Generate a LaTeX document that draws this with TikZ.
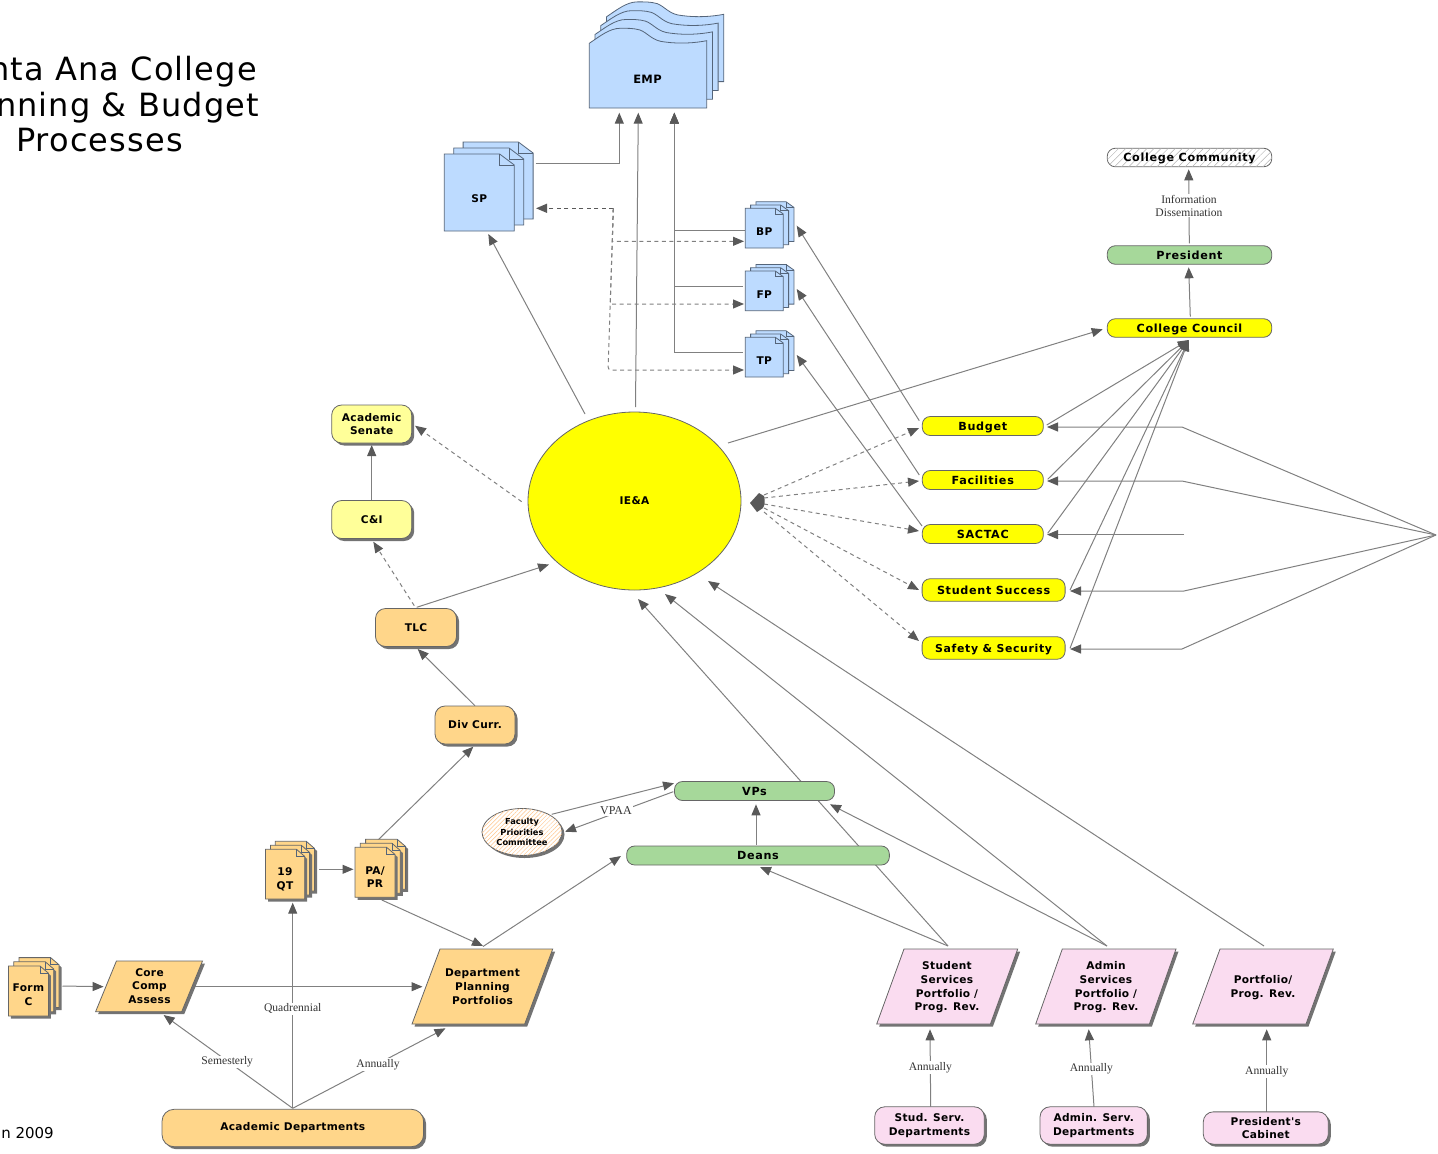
\documentclass[tikz,border=0pt]{standalone}
\usepackage{fontspec}
\setmainfont{DejaVu Sans}
\newfontfamily\edgeserif{Liberation Serif}
\newfontfamily\pilltext[LetterSpace=6]{DejaVu Sans}
\newfontfamily\boxtext[LetterSpace=3]{DejaVu Sans}
\newfontfamily\titletext[LetterSpace=3.5]{DejaVu Sans}
\usetikzlibrary{arrows.meta,calc,shadows,patterns.meta,backgrounds,shapes.geometric}
\definecolor{cblue}{HTML}{BDDBFF}
\definecolor{corange}{HTML}{FFD68A}
\definecolor{cpink}{HTML}{FADCF0}
\definecolor{cpale}{HTML}{FFFF99}
\definecolor{cyel}{HTML}{FFFF00}
\definecolor{cgreen}{HTML}{A6D89A}
\definecolor{cline}{HTML}{808080}
\definecolor{ctip}{HTML}{595959}
\definecolor{cedge}{HTML}{666666}
\definecolor{cblueedge}{HTML}{55657A}
\pgfdeclarelayer{edges}
\pgfsetlayers{edges,main}
\tikzset{
  x=1pt,y=-1pt,
  shadowed/.style={drop shadow={shadow xshift=2.5pt,shadow yshift=-2.5pt,fill=black!55,opacity=1}},
  conn/.style={draw=cline,line width=1pt,-{Triangle[length=11pt,width=9pt,color=ctip]}},
  dconn/.style={conn,dash pattern=on 4pt off 3.5pt},
  lbl/.style={font=\boxtext\fontsize{10.6}{13.7}\selectfont\bfseries,align=center,text=black,inner sep=0pt},
  elabel/.style={font=\edgeserif\fontsize{11.6}{13}\selectfont,align=center,fill=white,inner sep=1pt,text=black!80,yshift=-1pt},
  pill/.style={lbl,font=\pilltext\fontsize{11.2}{13.7}\selectfont\bfseries,text height=9pt,text depth=1pt,draw=cedge,line width=.8pt,rounded corners=8pt,minimum height=19pt},
  box/.style={lbl,draw=cedge,line width=.8pt,rounded corners=10pt,shadowed},
  bluepage/.style={draw=cblueedge,line width=.8pt,fill=cblue},
  orangepage/.style={draw=cedge,line width=.8pt,fill=corange,shadowed},
  pgram/.style={draw=cedge,line width=.8pt,shadowed},
  fold/.style={draw=cblueedge,line width=.6pt},
  titletxt/.style={anchor=base east,inner sep=0pt,text=black,font=\titletext\fontsize{32}{32}\selectfont},
}
\newcommand{\docstack}[7]{%
  \foreach \i in {2,1,0}{%
    \begin{scope}[shift={(#2+\i*#6,#3-\i*#7)}]
      \path[#1] (0,0) -- (#4*.79,0) -- (#4,#5*.143) -- (#4,#5) -- (0,#5) -- cycle;
      \draw[fold] (#4*.79,0) -- (#4*.79,#5*.143) -- (#4,#5*.143);
    \end{scope}}}
\newcommand{\pgramshape}[6]{%
  \path[pgram,fill=#1] (#2,#3) -- (#2+#6,#3) -- (#4+#6,#5) -- (#4,#5) -- cycle;}
\begin{document}
\begin{tikzpicture}
\useasboundingbox (0,0) rectangle (1438,1154);
% title
\node[titletxt] (title1) at (257,80) {nta Ana College};
\node[titletxt] (title2) at (259,116) {nning \& Budget};
\node[titletxt] (title3) at (183,151) {Processes};
\node[anchor=base east,inner sep=0pt,text=black,font=\fontsize{15}{15}\selectfont] (date) at (54,1138) {n 2009};
% EMP
\foreach \i in {3,2,1,0}{%
  \begin{scope}[shift={(\i*5.7,-\i*8.8)}]
    \path[bluepage] (589.3,43.3) .. controls (600,36) and (610,28.3) .. (620,28.3)
      .. controls (627,28.3) and (633,28) .. (640,30)
      .. controls (648,33) and (652,41) .. (665,42)
      .. controls (680,44) and (695,43) .. (706.7,40.7)
      -- (706.7,108) -- (589.3,108) -- cycle;
  \end{scope}}
\node[lbl,font=\boxtext\fontsize{11.5}{13}\selectfont\bfseries] (emp) at (647.5,79) {EMP};
% SP, BP, FP, TP
\docstack{bluepage}{444.3}{154}{70}{77}{9.4}{6}
\node[lbl] (sp) at (479.3,199) {SP};
\docstack{bluepage}{745.3}{208.3}{38}{39.7}{5.3}{3.3}
\node[lbl] (bp) at (764.3,232) {BP};
\docstack{bluepage}{745.3}{271}{38}{39.7}{5.3}{3.3}
\node[lbl] (fp) at (764.3,295) {FP};
\docstack{bluepage}{745.3}{337.3}{38}{39.7}{5.3}{3.3}
\node[lbl] (tp) at (764.3,361) {TP};
% right column
\node[pill,minimum width=164.5pt,minimum height=18.5pt,postaction={pattern={Lines[angle=45,distance=5pt,line width=.5pt]},pattern color=black!30}] (comm) at (1189.5,157.5) {College Community};
\node[pill,fill=cgreen,minimum width=164.5pt,minimum height=18.5pt] (pres) at (1189.5,255) {President};
\node[pill,fill=cyel,minimum width=164.5pt,minimum height=18.5pt] (council) at (1189.5,328) {College Council};
\node[pill,fill=cyel,minimum width=121pt] (bud) at (982.8,426) {Budget};
\node[pill,fill=cyel,minimum width=121pt] (fac) at (982.8,480) {Facilities};
\node[pill,fill=cyel,minimum width=121pt] (sac) at (982.8,534) {SACTAC};
\node[pill,fill=cyel,minimum width=143pt,minimum height=22.5pt] (stu) at (993.6,590) {Student Success};
\node[pill,fill=cyel,minimum width=143pt,minimum height=22.5pt,font=\pilltext\fontsize{10.9}{13.7}\selectfont\bfseries] (saf) at (993.6,648) {Safety \& Security};
% centre
\node[lbl,draw=cedge,line width=.8pt,fill=cyel,ellipse,minimum width=213pt,minimum height=178pt] (iea) at (634.5,501) {IE\&A};
\fill[ctip] (750,503) -- (759,493) -- (764,496) .. controls (765,501) and (765,505) .. (763,508) -- (757,512) -- cycle;
\coordinate (mrg) at (757,503);
% left column
\node[box,fill=cpale,minimum width=80pt,minimum height=38pt] (sen) at (371.7,424) {Academic\\Senate};
\node[box,fill=cpale,minimum width=80pt,minimum height=38pt] (ci) at (371.7,519.5) {C\&I};
\node[box,fill=corange,minimum width=81pt,minimum height=38pt] (tlc) at (416,627.5) {TLC};
\node[box,fill=corange,minimum width=80pt,minimum height=38pt] (div) at (475,725) {Div Curr.};
% VPs
\node[pill,fill=cgreen,minimum width=160pt] (vps) at (754.5,791) {VPs};
\node[pill,fill=cgreen,minimum width=262.7pt] (deans) at (758,855.5) {Deans};
\node[lbl,ellipse,draw=cedge,line width=.8pt,fill=white,shadowed,minimum width=80pt,minimum height=47pt,
  postaction={pattern={Lines[angle=45,distance=3pt,line width=.5pt]},pattern color=orange!45},
  font=\fontsize{8.3}{10.4}\selectfont\bfseries] (fpc) at (522,832) {Faculty\\Priorities\\Committee};
% lower-left
\docstack{orangepage}{8.4}{966}{40}{50}{5.3}{4.2}
\node[lbl] (formc) at (28.4,995) {Form\\C};
\pgramshape{corange}{116.4}{961}{95.6}{1011.7}{86.1}
\node[lbl] (core) at (149.5,986) {Core\\Comp\\Assess};
\pgramshape{corange}{440}{949}{412}{1024}{112.7}
\node[lbl] (dept) at (482.5,986.5) {Department\\Planning\\Portfolios};
\docstack{orangepage}{265.5}{849.3}{39.2}{49.7}{4.9}{4}
\node[lbl] (qt) at (285,879) {19\\QT};
\docstack{orangepage}{355}{847.3}{40}{50}{5.3}{4}
\node[lbl] (pa) at (375,877) {PA/\\PR};
\node[box,fill=corange,minimum width=261.6pt,minimum height=37.4pt,rounded corners=12pt] (acad) at (292.8,1128) {Academic Departments};
% lower-right
\pgramshape{cpink}{904}{949}{876.7}{1024}{113.7}
\node[lbl] (ssp) at (947,987.5) {Student\\Services\\Portfolio /\\Prog. Rev.};
\pgramshape{cpink}{1062.3}{949}{1035.7}{1024}{113.7}
\node[lbl] (asp) at (1106,987.5) {Admin\\Services\\Portfolio /\\Prog. Rev.};
\pgramshape{cpink}{1220}{949}{1192.7}{1024}{113.3}
\node[lbl] (pp) at (1263,987.5) {Portfolio/\\Prog. Rev.};
\node[box,fill=cpink,minimum width=109.6pt,minimum height=37.4pt] (ssd) at (929.5,1125.5) {Stud. Serv.\\Departments};
\node[box,fill=cpink,minimum width=107.3pt,minimum height=37.4pt] (asd) at (1093.7,1125.5) {Admin. Serv.\\Departments};
\node[box,fill=cpink,minimum width=125pt,minimum height=32.3pt] (pc) at (1265.8,1128) {President's\\Cabinet};
% helper coordinates
\coordinate (dj) at (613.3,208.3);
\coordinate (dj1) at (612.3,241.3);
\coordinate (dj2) at (610.3,304);
\coordinate (dj3) at (608,370);
\coordinate (hub) at (1436,535);
\coordinate (jb) at (1182,427);
\coordinate (jf) at (1182,481);
\coordinate (js) at (1184,534.6);
\coordinate (jst) at (1184,591);
\coordinate (jsf) at (1182,649);
\begin{pgfonlayer}{edges}
\draw[conn] ($(sp)+(56.4,-35.7)$) -| ($(emp)+(-28.2,33.7)$);
\draw[conn] ($(iea)+(1,-94)$) -- ($(emp)+(-9.2,33.7)$);
\draw[conn] ($(bp)+(-19.3,-2)$) -| ($(emp)+(26.8,33.7)$);
\draw[conn] ($(fp)+(-21.3,-8.7)$) -| ($(emp)+(26.8,33.7)$);
\draw[conn] ($(tp)+(-21.3,-8.7)$) -| ($(emp)+(26.8,33.7)$);
\draw[dconn,draw=black!65,line width=1.2pt] (dj) -- ($(sp)+(56.7,9.3)$);
\draw[dconn] (dj) -- (dj1) -- ($(bp)+(-20.3,9.3)$);
\draw[dconn] (dj) -- (dj2) -- ($(fp)+(-20.3,9)$);
\draw[dconn,rounded corners=3pt] (dj) -- (dj3) -- ($(tp)+(-20.3,9)$);
\draw[conn] ($(iea)+(-49.5,-87)$) -- ($(sp)+(9,35)$);
\draw[conn] ($(bud)+(-63.5,-5.3)$) -- ($(bp)+(32.4,-6.3)$);
\draw[conn] ($(fac)+(-63.5,-5)$) -- ($(fp)+(32.4,-6)$);
\draw[conn] ($(sac)+(-60.8,-8)$) -- ($(tp)+(32.4,-6)$);
\draw[conn] ($(iea)+(93.5,-58)$) -- ($(council)+(-86.8,1.3)$);
\draw[conn] ($(council)+(.8,-11.3)$) -- ($(pres)+(-.8,12.3)$);
\draw[conn] ($(pres)+(-.2,-11.7)$) -- node[elabel,pos=.52] (infolbl) {Information\\Dissemination} ($(comm)+(-.8,11.8)$);
\draw[conn] ($(bud)+(63.9,-1)$) -- ($(council)+(-.8,12)$);
\draw[conn] ($(fac)+(64.9,-.7)$) -- ($(council)+(-.8,12)$);
\draw[conn] ($(sac)+(64.9,-.7)$) -- ($(council)+(-.8,12)$);
\draw[conn] ($(stu)+(76.4,0)$) -- ($(council)+(-.8,12)$);
\draw[conn] ($(saf)+(76.4,.3)$) -- ($(council)+(-.8,12)$);
\draw[conn] (hub) -- (jb) -- ($(bud)+(64.2,1)$);
\draw[conn] (hub) -- (jf) -- ($(fac)+(64.2,1)$);
\draw[conn] (js) -- ($(sac)+(64.2,.6)$);
\draw[conn] (hub) -- (jst) -- ($(stu)+(76.4,1)$);
\draw[conn] (hub) -- (jsf) -- ($(saf)+(76.4,1)$);
\draw[dconn] ($(mrg)+(7,-8)$) -- ($(bud)+(-63.8,2)$);
\draw[dconn] ($(mrg)+(7,-5)$) -- ($(fac)+(-63.8,1)$);
\draw[dconn] ($(mrg)+(7,1)$) -- ($(sac)+(-63.8,-3)$);
\draw[dconn] ($(mrg)+(7,5)$) -- ($(stu)+(-74.6,0)$);
\draw[dconn] ($(mrg)+(7,9)$) -- ($(saf)+(-74.6,-7)$);
\draw[conn] ($(tlc)+(.7,-20.2)$) -- ($(iea)+(-85.5,63.5)$);
\draw[dconn] ($(iea)+(-112.8,.7)$) -- ($(sen)+(43.3,1.7)$);
\draw[dconn] ($(tlc)+(-1.7,-21.8)$) -- ($(ci)+(1.6,22.2)$);
\draw[conn] ($(ci)+(0,-19)$) -- ($(sen)+(0,21)$);
\draw[conn] ($(div)+(0,-19.3)$) -- ($(tlc)+(1.7,21.5)$);
\draw[conn] ($(pa)+(3,-37)$) -- ($(div)+(-1.7,21.7)$);
\draw[conn] ($(qt)+(34.3,-9.7)$) -- ($(pa)+(-21.5,-7.7)$);
\draw[conn] ($(pa)+(6.8,23)$) -- ($(dept)+(.5,-40.5)$);
\draw[conn] ($(dept)+(.5,-40)$) -- ($(deans)+(-137,.5)$);
\draw[conn] ($(formc)+(34.1,-9)$) -- ($(core)+(-45.9,.7)$);
\draw[conn] ($(core)+(45,.7)$) -- ($(dept)+(-60,.2)$);
\draw[conn] ($(acad)+(-.1,-19.7)$) -- node[elabel,pos=.507] (semlbl) {Semesterly} ($(core)+(14.1,29)$);
\draw[conn] ($(acad)+(-.1,-19.7)$) -- node[elabel,pos=.49] (quadlbl) {Quadrennial} ($(qt)+(7.7,23.7)$);
\draw[conn] ($(acad)+(-.1,-19.7)$) -- node[elabel,pos=.558] (annlbl) {Annually} ($(dept)+(-37,41.8)$);
\draw[conn] ($(fpc)+(29.7,-17.7)$) -- ($(vps)+(-80.5,-7.7)$);
\draw[conn] ($(vps)+(-81.2,.7)$) -- node[elabel,pos=.53,yshift=3pt,font=\edgeserif\fontsize{12}{14}\selectfont] (vpaalbl) {VPAA} ($(fpc)+(43,-.3)$);
\draw[conn] ($(deans)+(-2,-10.5)$) -- ($(vps)+(1.5,13.3)$);
\draw[conn] ($(ssp)+(1,-41.5)$) -- ($(deans)+(2,11.5)$);
\draw[conn] ($(ssp)+(1,-41.5)$) -- ($(iea)+(3.5,98)$);
\draw[conn] ($(asp)+(1,-41.5)$) -- ($(vps)+(75.5,13.3)$);
\draw[conn] ($(asp)+(1,-41.5)$) -- ($(iea)+(30.5,93)$);
\draw[conn] ($(pp)+(1,-41.5)$) -- ($(iea)+(73.5,80)$);
\draw[conn] ($(ssd)+(1.2,-18.8)$) -- node[elabel,pos=.52] (ann1) {Annually} ($(ssp)+(-17,41.8)$);
\draw[conn] ($(asd)+(.3,-18.8)$) -- node[elabel,pos=.5] (ann2) {Annually} ($(asp)+(-17.3,41.8)$);
\draw[conn] ($(pc)+(.9,-16.3)$) -- node[elabel,pos=.5] (ann3) {Annually} ($(pp)+(3.7,41.8)$);
\end{pgfonlayer}
\end{tikzpicture}
\end{document}
